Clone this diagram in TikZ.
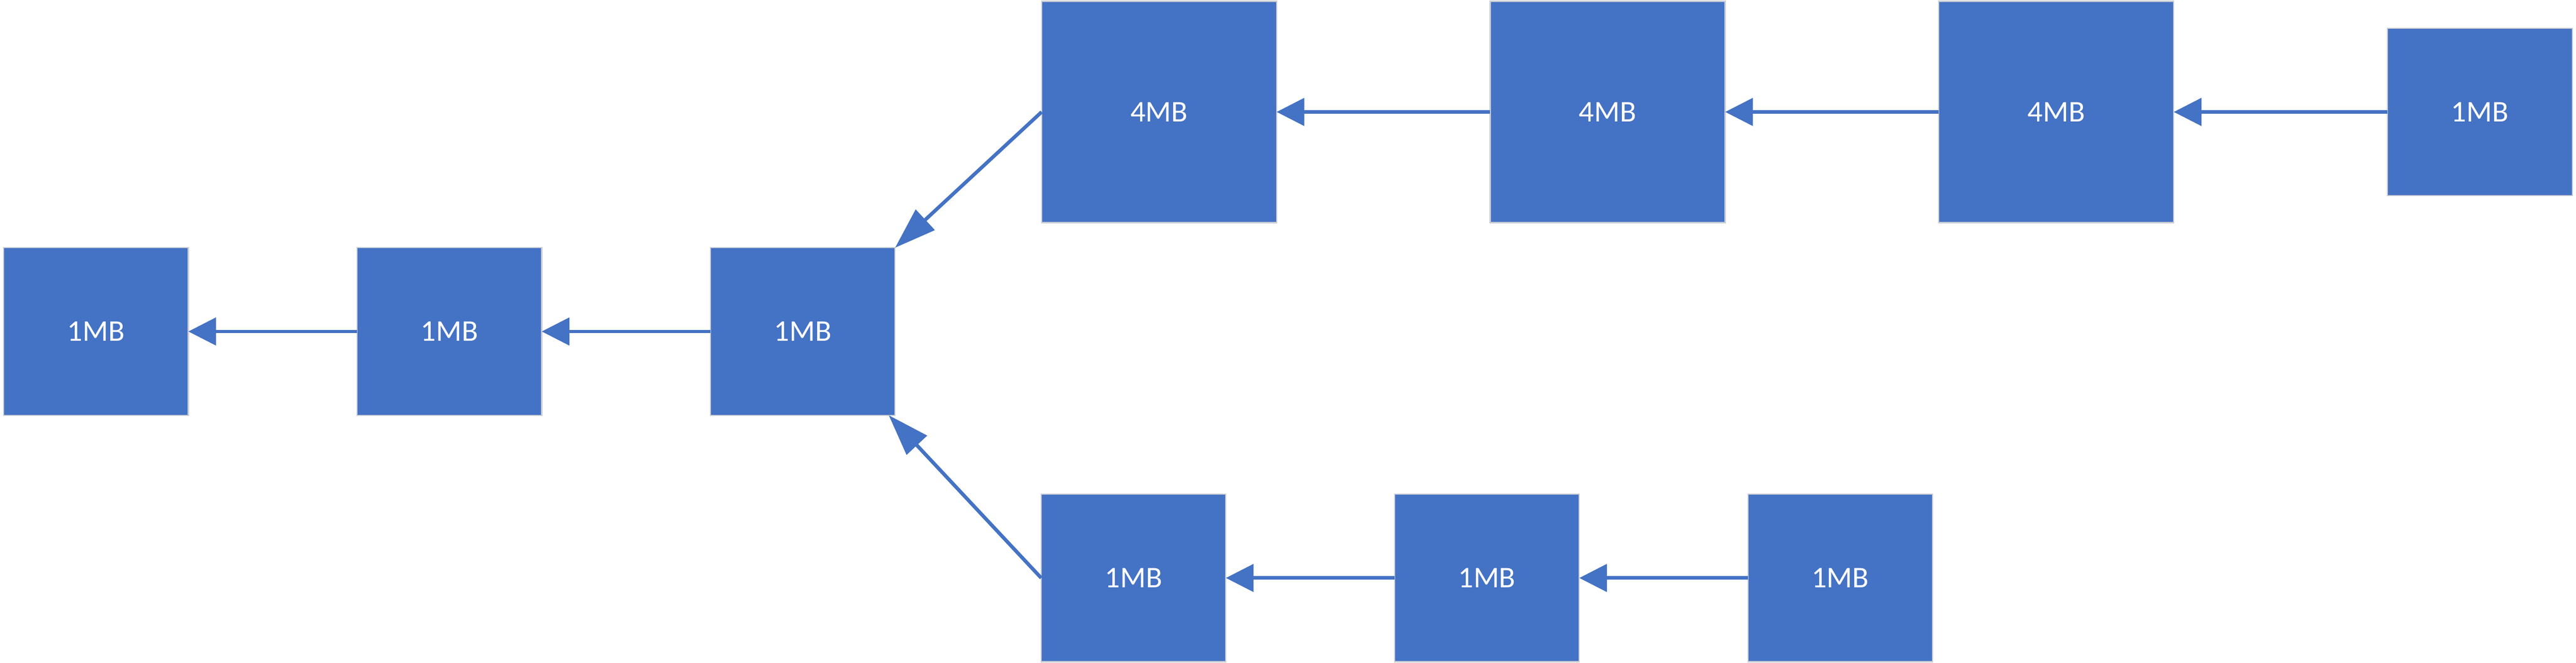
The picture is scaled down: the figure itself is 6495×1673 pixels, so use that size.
\documentclass[tikz,border=0pt]{standalone}
\usepackage{fontspec}
\setmainfont{Carlito}
\usetikzlibrary{arrows.meta}
\definecolor{blockblue}{HTML}{4472C4}
\definecolor{blockedge}{HTML}{C8CCD4}
\begin{document}
\begin{tikzpicture}[x=0.005cm,y=0.005cm,
    blk/.style={draw=blockedge,line width=0.4pt,fill=blockblue,text=white,
      inner sep=0pt,outer sep=0pt,font=\fontsize{10.8}{13}\selectfont},
    small/.style={blk,minimum width=2.33cm,minimum height=2.115cm},
    big/.style={blk,minimum width=2.965cm,minimum height=2.795cm},
    link/.style={draw=blockblue,line width=1.28pt,
      -{Triangle[length=0.35cm,width=0.345cm]}},
    slant/.style={draw=blockblue,line width=1.28pt,
      -{Triangle[length=0.52cm,width=0.345cm]}}]
        \useasboundingbox (0,0) rectangle (6495,1673);
        \node[small] (a) at (242,836.5) {1MB};
        \node[small] (b) at (1133,836.5) {1MB};
        \node[small] (c) at (2024,836.5) {1MB};
        \node[big] (top1) at (2922.5,1390.5) {4MB};
        \node[big] (top2) at (4053.5,1390.5) {4MB};
        \node[big] (top3) at (5184.5,1390.5) {4MB};
        \node[small] (topr) at (6252.5,1390.5) {1MB};
        \node[small] (bot1) at (2858,214.5) {1MB};
        \node[small] (bot2) at (3749,214.5) {1MB};
        \node[small] (bot3) at (4640,214.5) {1MB};
        \draw[link] (b) -- (a);
        \draw[link] (c) -- (b);
        \draw[slant] (top1.west) -- (c.north east);
        \draw[link] (top2) -- (top1);
        \draw[link] (top3) -- (top2);
        \draw[link] (topr) -- (top3);
        \draw[slant] (bot1.west) -- ([xshift=-0.08cm]c.south east);
        \draw[link] (bot2) -- (bot1);
        \draw[link] (bot3) -- (bot2);
      \end{tikzpicture}
\end{document}
